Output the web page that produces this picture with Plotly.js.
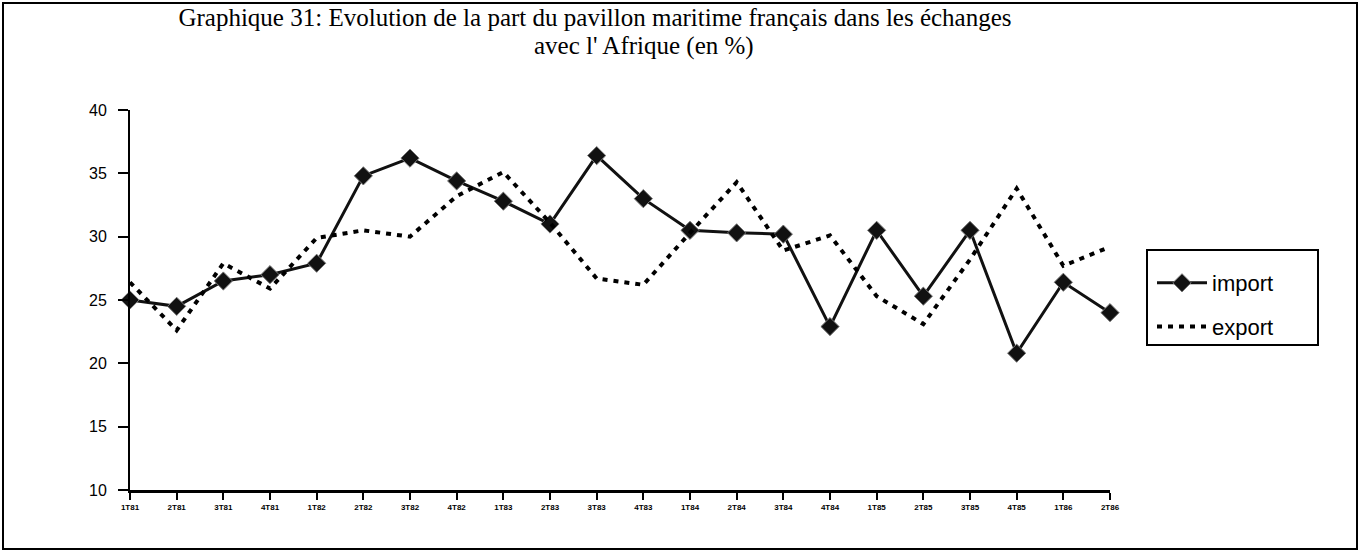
<!DOCTYPE html>
<html>
<head>
<meta charset="utf-8">
<script src="https://cdn.plot.ly/plotly-3.0.1.min.js"></script>
<style>html,body{margin:0;padding:0;background:#fff;}#chart{width:1360px;height:556px;}</style>
</head>
<body>
<div id="chart"></div>
<script>
const quarters = ["1T81","2T81","3T81","4T81","1T82","2T82","3T82","4T82","1T83","2T83","3T83","4T83","1T84","2T84","3T84","4T84","1T85","2T85","3T85","4T85","1T86","2T86"];
const importValues = [25.0,24.5,26.5,27.0,27.9,34.8,36.2,34.4,32.8,31.0,36.4,33.0,30.5,30.3,30.2,22.9,30.5,25.3,30.5,20.8,26.4,24.0];
const exportValues = [26.4,22.6,27.9,25.9,29.9,30.5,30.0,33.2,35.1,31.1,26.7,26.2,30.3,34.3,28.9,30.1,25.3,23.1,28.2,33.8,27.7,29.2];
const titleLine1 = "Graphique 31: Evolution de la part du pavillon maritime français dans les échanges";
const titleLine2 = "avec l' Afrique (en %)";
const yTicks = [10,15,20,25,30,35,40];

const traces = [
  {
    type: "scatter", mode: "lines+markers", name: "import",
    x: quarters, y: importValues, legendgroup: "a",
    line: {color: "#111", width: 3},
    marker: {symbol: "diamond", size: 14, color: "#111", line: {color: "#777", width: 1}},
    cliponaxis: false
  },
  {
    type: "scatter", mode: "lines", name: "export",
    x: quarters, y: exportValues, legendgroup: "b",
    line: {color: "#000", width: 4, dash: "5px,6px"},
    cliponaxis: false
  }
];

const L = 130, R = 1110, T = 110, B = 490;
const W = R - L, H = B - T;
const px = v => (v - L) / W;
const py = v => (B - v) / H;
const serif = "Liberation Serif, Times New Roman, serif";
const sans = "Liberation Sans, Arial, sans-serif";

const layout = {
  width: 1360, height: 556,
  margin: {l: L, r: 1360 - R, t: T, b: 556 - B},
  paper_bgcolor: "#fff", plot_bgcolor: "#fff",
  showlegend: true,
  title: {
    text: titleLine1,
    font: {family: serif, size: 25, color: "#000"},
    x: 595 / 1360, xref: "container", xanchor: "center",
    y: 1 - 17 / 556, yref: "container", yanchor: "middle"
  },
  annotations: [
    {text: titleLine2, xref: "paper", yref: "paper", x: px(644), y: py(46),
     xanchor: "center", yanchor: "middle", showarrow: false,
     font: {family: serif, size: 25, color: "#000"}}
  ],
  xaxis: {
    type: "category", range: [0, 21], showgrid: false, zeroline: false,
    showline: true, linecolor: "#000", linewidth: 3,
    ticks: "outside", ticklen: 7, tickwidth: 2, tickcolor: "#000",
    tickangle: 0,
    tickfont: {family: sans, size: 8, color: "#000", weight: "bold"}
  },
  yaxis: {
    range: [10, 40], tickvals: yTicks, showgrid: false, zeroline: false,
    showline: true, linecolor: "#000", linewidth: 2,
    ticks: "outside", ticklen: 10, tickwidth: 2, tickcolor: "#000",
    ticklabelstandoff: 8,
    tickfont: {family: sans, size: 16, color: "#000"}
  },
  legend: {
    x: px(1152), y: py(262), xanchor: "left", yanchor: "top",
    bgcolor: "rgba(0,0,0,0)", borderwidth: 0,
    traceorder: "grouped", tracegroupgap: 12, itemwidth: 50,
    font: {family: sans, size: 22, color: "#000"}
  },
  shapes: [
    {type: "rect", xref: "paper", yref: "paper", x0: px(1147), x1: px(1318), y0: py(345), y1: py(250),
     line: {color: "#000", width: 2}},
    {type: "rect", xref: "paper", yref: "paper", x0: px(3), x1: px(1357), y0: py(549), y1: py(3),
     line: {color: "#000", width: 2}}
  ]
};

Plotly.newPlot("chart", traces, layout, {displayModeBar: false, staticPlot: true});
</script>
</body>
</html>
